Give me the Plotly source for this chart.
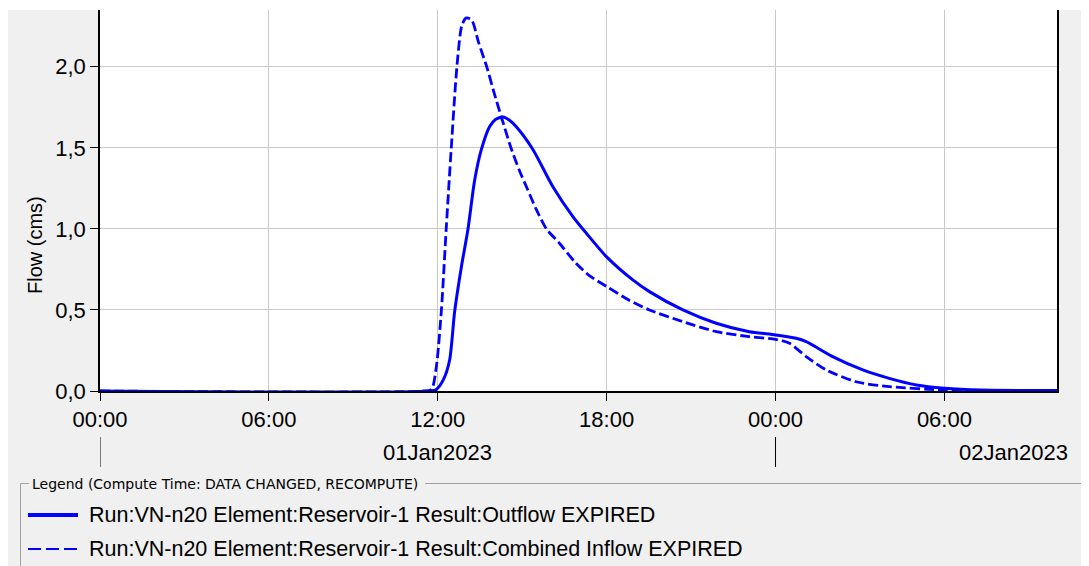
import plotly.graph_objects as go
import pandas as pd

# ---- data (hours after 01Jan2023 00:00, flow in cms) ----
inflow_hours = [0, 11.5, 11.78, 11.95, 12.13, 12.3, 12.48, 12.68, 12.85, 13.0, 13.2, 13.45,
                13.74, 14.0, 14.26, 14.6, 14.9, 15.2, 15.5, 15.86, 16.33, 16.9, 17.4, 18.0,
                18.8, 19.52, 20.7, 21.9, 23.07, 24.0, 24.5, 25.09, 25.8, 26.86, 28.04, 30.0,
                31.0, 34.0]
inflow_values = [0, 0, 0.01, 0.15, 0.5, 1.0, 1.5, 2.0, 2.25, 2.30, 2.29, 2.15,
                 2.0, 1.84, 1.69, 1.5, 1.36, 1.24, 1.12, 1.0, 0.91, 0.79, 0.71, 0.645,
                 0.56, 0.5, 0.428, 0.366, 0.335, 0.319, 0.294, 0.212, 0.13, 0.057, 0.027, 0.006,
                 0.002, 0.0]

outflow_hours = [0, 11.7, 11.95, 12.2, 12.42, 12.6, 12.84, 13.07, 13.31, 13.55, 13.84, 14.05,
                 14.32, 14.55, 14.79, 15.38, 16.09, 16.8, 17.28, 17.99, 18.93, 19.52, 20.71,
                 21.89, 23.07, 24.0, 24.73, 25.09, 26.03, 27.1, 28.04, 29.0, 30.0, 31.3, 34.0]
outflow_values = [0, 0, 0.01, 0.07, 0.19, 0.49, 0.767, 0.994, 1.30, 1.49, 1.63, 1.675,
                  1.69, 1.67, 1.63, 1.49, 1.26, 1.076, 0.973, 0.829, 0.685, 0.613, 0.5,
                  0.418, 0.366, 0.346, 0.325, 0.304, 0.212, 0.13, 0.078, 0.037, 0.017, 0.006, 0.003]

outflow_name = "Run:VN-n20 Element:Reservoir-1 Result:Outflow EXPIRED"
inflow_name = "Run:VN-n20 Element:Reservoir-1 Result:Combined Inflow EXPIRED"
legend_title = "Legend (Compute Time: DATA CHANGED, RECOMPUTE)"
date_labels = ["01Jan2023", "02Jan2023"]

start = pd.Timestamp("2023-01-01 00:00")
t_in = [start + pd.Timedelta(hours=h) for h in inflow_hours]
t_out = [start + pd.Timedelta(hours=h) for h in outflow_hours]

BLUE = "#0000ff"
FONT = "Liberation Sans, Arial, sans-serif"

# ---- layout geometry (page pixels; the page body has an 8px margin) ----
OFF = 8
W, H = 1089 - OFF, 566 - OFF
L, R, T, B = 100, 1057, 10, 391          # plot area in page pixels
pw, ph = R - L, B - T


def xp(px):
    return (px - L) / pw


def yp(py):
    return (B - py) / ph


fig = go.Figure()
fig.add_trace(go.Scatter(x=t_out, y=outflow_values, mode="lines", name=outflow_name,
                         line=dict(color=BLUE, width=3, shape="spline", smoothing=0.7),
                         showlegend=False))
fig.add_trace(go.Scatter(x=t_in, y=inflow_values, mode="lines", name=inflow_name,
                         line=dict(color=BLUE, width=2.8, dash="10px,4px", shape="spline", smoothing=0.7),
                         showlegend=False))

fig.update_layout(
    width=W, height=H, autosize=False,
    margin=dict(l=L - OFF, r=(OFF + W) - R, t=T - OFF, b=(OFF + H) - B, pad=0),
    paper_bgcolor="#f0f0f0", plot_bgcolor="#ffffff",
    separators=",.",
    font=dict(family=FONT, size=22, color="#000000"),
    showlegend=False,
)
fig.update_xaxes(
    type="date",
    range=[start, start + pd.Timedelta(hours=34)],
    tick0=start, dtick=6 * 3600 * 1000, tickformat="%H:%M",
    ticks="outside", ticklen=8, tickcolor="#000000", tickwidth=1,
    showline=True, linecolor="#000000", linewidth=1.5,
    showgrid=True, gridcolor="#c8c8c8", gridwidth=1,
    zeroline=False,
    tickfont=dict(family=FONT, size=22, color="#000000"),
)
fig.update_yaxes(
    range=[0, 2.35], dtick=0.5, tick0=0, tickformat=".1f",
    ticks="outside", ticklen=8, tickcolor="#000000", tickwidth=1,
    showline=True, linecolor="#000000", linewidth=1.5, mirror=True,
    showgrid=True, gridcolor="#c8c8c8", gridwidth=1,
    zeroline=False,
    tickfont=dict(family=FONT, size=22, color="#000000"),
)

shapes = []
# thin white strip at the very top
shapes.append(dict(type="rect", xref="paper", yref="paper", x0=xp(0), x1=xp(1095),
                   y0=yp(T), y1=yp(0), fillcolor="#ffffff", line=dict(width=0), layer="below"))
# date separator ticks
for d in [start, start + pd.Timedelta(hours=24)]:
    shapes.append(dict(type="line", xref="x", yref="paper", x0=d, x1=d,
                       y0=yp(437), y1=yp(467), line=dict(color="#000000", width=1)))
# legend frame
shapes.append(dict(type="line", xref="paper", yref="paper", x0=xp(20.5), x1=xp(29),
                   y0=yp(483.5), y1=yp(483.5), line=dict(color="#a0a0a0", width=1)))
shapes.append(dict(type="line", xref="paper", yref="paper", x0=xp(425), x1=xp(1095),
                   y0=yp(483.5), y1=yp(483.5), line=dict(color="#a0a0a0", width=1)))
shapes.append(dict(type="line", xref="paper", yref="paper", x0=xp(20.5), x1=xp(20.5),
                   y0=yp(483.5), y1=yp(570), line=dict(color="#a0a0a0", width=1)))
# legend samples
shapes.append(dict(type="line", xref="paper", yref="paper", x0=xp(28), x1=xp(78),
                   y0=yp(515), y1=yp(515), line=dict(color=BLUE, width=4)))
shapes.append(dict(type="line", xref="paper", yref="paper", x0=xp(28), x1=xp(78),
                   y0=yp(549), y1=yp(549), line=dict(color=BLUE, width=2, dash="13px,5px")))
fig.update_layout(shapes=shapes)

ann = []
ann.append(dict(text="Flow (cms)", xref="paper", yref="paper", x=xp(35), y=yp(245),
                textangle=-90, showarrow=False, xanchor="center", yanchor="middle",
                font=dict(family=FONT, size=20, color="#000000")))
ann.append(dict(text=date_labels[0], xref="x", yref="paper", x=start + pd.Timedelta(hours=12),
                y=yp(452), showarrow=False, xanchor="center", yanchor="middle",
                font=dict(family=FONT, size=22, color="#000000")))
ann.append(dict(text=date_labels[1], xref="paper", yref="paper", x=xp(1013),
                y=yp(452), showarrow=False, xanchor="center", yanchor="middle",
                font=dict(family=FONT, size=22, color="#000000")))
ann.append(dict(text=legend_title, xref="paper", yref="paper", x=xp(30), y=yp(484),
                showarrow=False, xanchor="left", yanchor="middle",
                font=dict(family="DejaVu Sans", size=14, color="#000000")))
ann.append(dict(text=outflow_name, xref="paper", yref="paper", x=xp(87), y=yp(515),
                showarrow=False, xanchor="left", yanchor="middle",
                font=dict(family=FONT, size=21.5, color="#000000")))
ann.append(dict(text=inflow_name, xref="paper", yref="paper", x=xp(87), y=yp(549),
                showarrow=False, xanchor="left", yanchor="middle",
                font=dict(family=FONT, size=21.5, color="#000000")))
fig.update_layout(annotations=ann)

fig.write_html("out.html")
